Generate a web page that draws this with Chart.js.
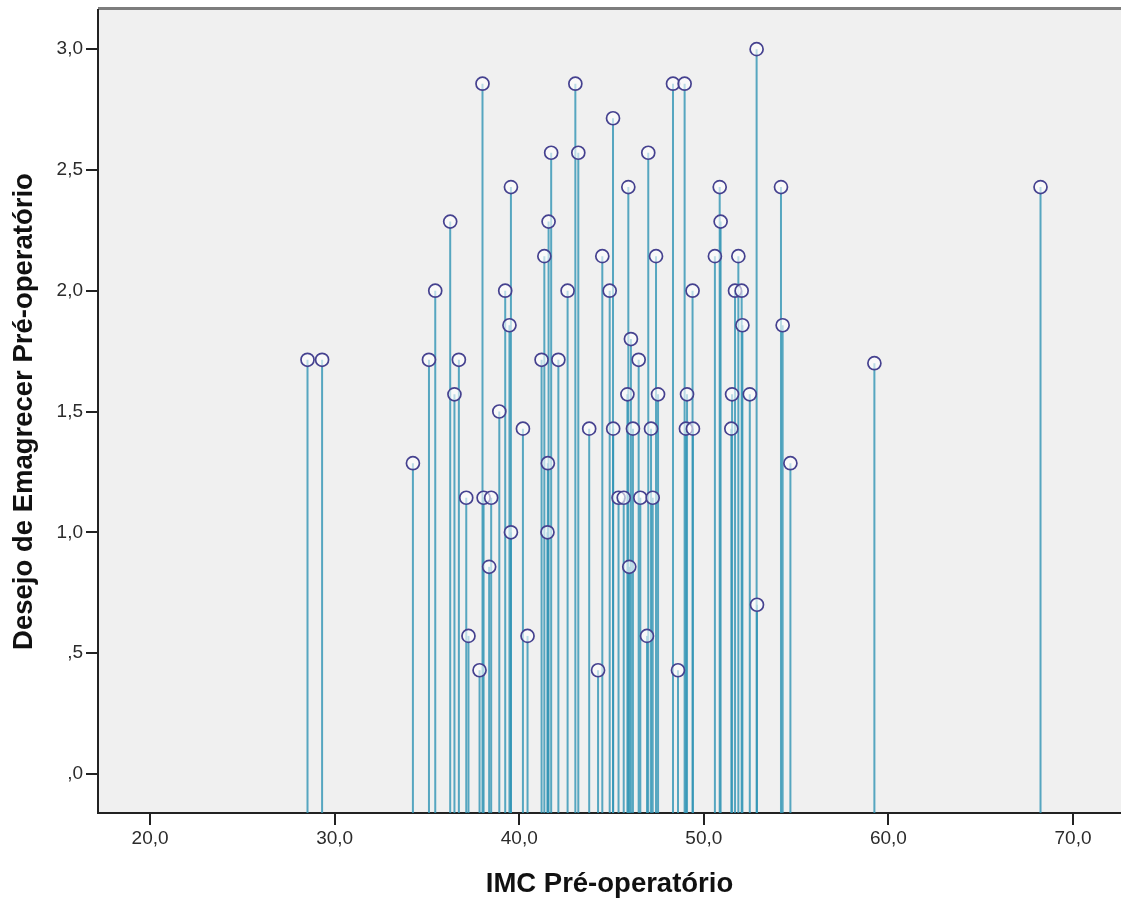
<!DOCTYPE html>
<html>
<head>
<meta charset="utf-8">
<script src="https://cdn.jsdelivr.net/npm/chart.js@4.4.1/dist/chart.umd.min.js"></script>
<style>
  html, body { margin: 0; padding: 0; background: #ffffff; }
  #wrap { width: 1121px; height: 898px; }
</style>
</head>
<body>
<div id="wrap"><canvas id="c" width="1121" height="898"></canvas></div>
<script>
// IMC Pré-operatório (x) for each case
const imc = [
  28.53, 29.32, 34.24, 35.11, 35.45, 36.26, 36.49, 36.73, 37.13, 37.25,
  37.85, 38.01, 38.07, 38.37, 38.48, 38.92, 39.24, 39.47, 39.55, 39.55,
  40.20, 40.45, 41.21, 41.36, 41.53, 41.55, 41.59, 41.73, 42.12, 42.62,
  43.04, 43.20, 43.79, 44.27, 44.50, 44.90, 45.08, 45.09, 45.38, 45.66,
  45.86, 45.91, 45.96, 46.05, 46.16, 46.47, 46.56, 46.92, 46.99, 47.14,
  47.23, 47.41, 47.52, 48.33, 48.60, 48.96, 49.03, 49.09, 49.39, 49.41,
  50.60, 50.86, 50.91, 51.49, 51.53, 51.69, 51.87, 52.05, 52.09, 52.49,
  52.86, 52.88, 54.18, 54.27, 54.69, 59.24, 68.24
];
// Desejo de Emagrecer Pré-operatório (y) for each case
const desejo = [
  1.714, 1.714, 1.286, 1.714, 2.000, 2.286, 1.571, 1.714, 1.143, 0.571,
  0.429, 2.857, 1.143, 0.857, 1.143, 1.500, 2.000, 1.857, 2.429, 1.000,
  1.429, 0.571, 1.714, 2.143, 1.000, 1.286, 2.286, 2.571, 1.714, 2.000,
  2.857, 2.571, 1.429, 0.429, 2.143, 2.000, 2.714, 1.429, 1.143, 1.143,
  1.571, 2.429, 0.857, 1.800, 1.429, 1.714, 1.143, 0.571, 2.571, 1.429,
  1.143, 2.143, 1.571, 2.857, 0.429, 2.857, 1.429, 1.571, 2.000, 1.429,
  2.143, 2.429, 2.286, 1.429, 1.571, 2.000, 2.143, 2.000, 1.857, 1.571,
  3.000, 0.700, 2.429, 1.857, 1.286, 1.700, 2.429
];
// Axis ticks
const xTicks = [20, 30, 40, 50, 60, 70];
const xTickLabels = ['20,0', '30,0', '40,0', '50,0', '60,0', '70,0'];
const yTicks = [0, 0.5, 1.0, 1.5, 2.0, 2.5, 3.0];
const yTickLabels = [',0', ',5', '1,0', '1,5', '2,0', '2,5', '3,0'];
const xTitle = 'IMC Pré-operatório';
const yTitle = 'Desejo de Emagrecer Pré-operatório';

const points = imc.map((x, i) => ({ x: x, y: desejo[i] }));

const plotDecor = {
  id: 'plotDecor',
  beforeDraw(chart) {
    const { ctx, chartArea: a } = chart;
    ctx.save();
    ctx.fillStyle = '#F0F0F0';
    ctx.fillRect(a.left, a.top, a.right - a.left, a.bottom - a.top);
    ctx.strokeStyle = '#7d7d7d';
    ctx.lineWidth = 3;
    ctx.beginPath();
    ctx.moveTo(a.left, a.top - 1.5);
    ctx.lineTo(a.right, a.top - 1.5);
    ctx.stroke();
    ctx.restore();
  },
  beforeDatasetsDraw(chart) {
    const { ctx, chartArea: a } = chart;
    const meta = chart.getDatasetMeta(0);
    ctx.save();
    ctx.strokeStyle = 'rgba(48,148,180,0.8)';
    ctx.lineWidth = 2;
    meta.data.forEach(pt => {
      ctx.beginPath();
      ctx.moveTo(pt.x, pt.y);
      ctx.lineTo(pt.x, a.bottom);
      ctx.stroke();
    });
    ctx.restore();
  }
};

const tickFont = { family: 'Liberation Sans, Arial, sans-serif', size: 19 };
const titleFont = { family: 'Liberation Sans, Arial, sans-serif', size: 27.5, weight: 'bold', lineHeight: 1.0 };

new Chart(document.getElementById('c'), {
  type: 'scatter',
  data: {
    datasets: [{
      data: points,
      pointRadius: 6.5,
      pointBorderWidth: 1.7,
      pointBorderColor: '#45418f',
      pointBackgroundColor: 'rgba(255,255,255,0.6)',
      pointHoverRadius: 6.5
    }]
  },
  options: {
    responsive: false,
    animation: false,
    events: [],
    layout: { autoPadding: false, padding: { top: 10, right: 0, bottom: 0, left: 0 } },
    plugins: { legend: { display: false }, tooltip: { enabled: false } },
    scales: {
      x: {
        type: 'linear',
        min: 17.18,
        max: 72.6,
        afterBuildTicks: s => { s.ticks = xTicks.map(v => ({ value: v })); },
        afterFit: s => { s.height = 85; s.paddingLeft = 0; s.paddingRight = 0; },
        ticks: {
          callback: (v, i) => xTickLabels[i],
          font: tickFont, color: '#2b2b2b', padding: 2,
          maxRotation: 0, autoSkip: false
        },
        grid: { display: true, drawOnChartArea: false, drawTicks: true, tickLength: 12, color: '#222', lineWidth: 2 },
        border: { display: true, color: '#222', width: 2 },
        title: { display: true, text: xTitle, font: titleFont, color: '#111', padding: { top: 0, bottom: 0 } }
      },
      y: {
        type: 'linear',
        min: -0.162,
        max: 3.162,
        afterBuildTicks: s => { s.ticks = yTicks.map(v => ({ value: v })); },
        afterFit: s => { s.width = 98; s.paddingTop = 0; s.paddingBottom = 0; },
        ticks: {
          callback: (v, i) => yTickLabels[i],
          font: tickFont, color: '#2b2b2b', padding: 3, autoSkip: false
        },
        grid: { display: true, drawOnChartArea: false, drawTicks: true, tickLength: 12, color: '#222', lineWidth: 2 },
        border: { display: true, color: '#222', width: 2 },
        title: { display: true, text: yTitle, font: titleFont, color: '#111', padding: { top: 11, bottom: 0 } }
      }
    }
  },
  plugins: [plotDecor]
});
</script>
</body>
</html>
